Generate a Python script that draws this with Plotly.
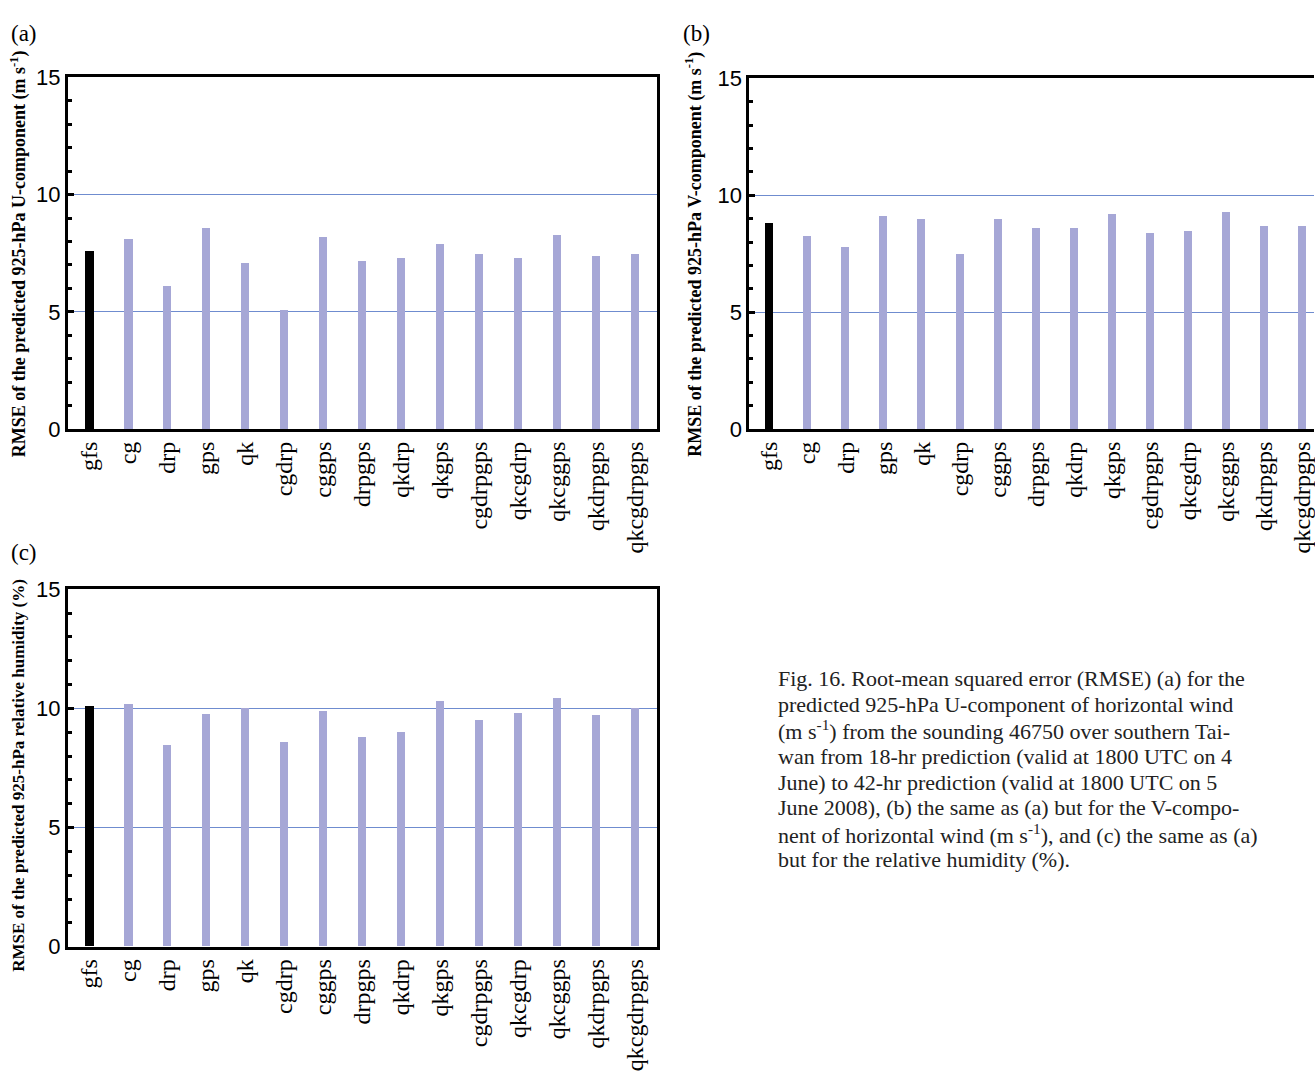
import plotly.graph_objects as go

categories = ["gfs", "cg", "drp", "gps", "qk", "cgdrp", "cggps", "drpgps", "qkdrp",
              "qkgps", "cgdrpgps", "qkcgdrp", "qkcggps", "qkdrpgps", "qkcgdrpgps"]
rmse_u = [7.56, 8.07, 6.07, 8.57, 7.07, 5.07, 8.18, 7.17, 7.28, 7.88, 7.47, 7.28, 8.28, 7.36, 7.46]
rmse_v = [8.78, 8.25, 7.77, 9.08, 8.98, 7.49, 8.98, 8.58, 8.58, 9.18, 8.37, 8.46, 9.27, 8.67, 8.67]
rmse_rh = [10.07, 10.16, 8.47, 9.77, 10.0, 8.58, 9.89, 8.78, 8.99, 10.3, 9.51, 9.79, 10.41, 9.7, 10.0]
y_ticks = [0, 5, 10, 15]

W, H = 1315, 1072
BLACK = "#000000"
LAV = "#a6a7d6"
GRID = "#6f8ccf"
SERIF = "Liberation Serif, Times New Roman, serif"
SANS = "Liberation Sans, Arial, sans-serif"

colors = [BLACK] + [LAV] * (len(categories) - 1)


def px(x):
    return x / W


def py(y):
    return 1 - y / H


fig = go.Figure()
panels = [
    ("x", "y", rmse_u),
    ("x2", "y2", rmse_v),
    ("x3", "y3", rmse_rh),
]
for xa, ya, vals in panels:
    fig.add_trace(go.Bar(x=categories, y=vals, xaxis=xa, yaxis=ya,
                         marker=dict(color=colors, line=dict(width=0)),
                         width=0.21, showlegend=False))

common_x = dict(type="category", showline=True, linewidth=3, linecolor=BLACK,
                mirror=True, ticks="", tickangle=-90, showgrid=False,
                tickfont=dict(family=SERIF, size=24, color=BLACK), zeroline=False)
common_y = dict(range=[0, 15], tickvals=y_ticks, showline=True, linewidth=3,
                linecolor=BLACK, ticks="inside", ticklen=6, tickwidth=3,
                tickcolor=BLACK, showgrid=True, gridcolor=GRID, gridwidth=1,
                zeroline=False, tickfont=dict(family=SANS, size=22, color=BLACK),
                minor=dict(dtick=1, ticks="inside", ticklen=4, tickwidth=3,
                           tickcolor=BLACK, showgrid=False))

fig.update_layout(
    width=W, height=H,
    margin=dict(l=0, r=0, t=0, b=0),
    paper_bgcolor="white", plot_bgcolor="white",
    bargap=0,
    xaxis=dict(common_x, domain=[px(68), px(657)], range=[-0.55, 14.55], anchor="y"),
    yaxis=dict(common_y, domain=[py(427), py(67)], anchor="x", mirror=True),
    xaxis2=dict(common_x, domain=[px(750), 1.0], range=[-0.53, 14.3], anchor="y2"),
    yaxis2=dict(common_y, domain=[py(427), py(68)], anchor="x2", mirror=False),
    xaxis3=dict(common_x, domain=[px(68), px(657)], range=[-0.55, 14.55], anchor="y3"),
    yaxis3=dict(common_y, domain=[py(957), py(591)], anchor="x3", mirror=True),
)

annotations = []
# panel labels
for label, x, y in [("(a)", 9, 22), ("(b)", 682, 22), ("(c)", 9, 553)]:
    annotations.append(dict(text=label, x=px(x), y=py(y), xref="paper", yref="paper",
                            xanchor="left", yanchor="middle", showarrow=False,
                            font=dict(family=SERIF, size=23, color=BLACK)))

# y-axis titles
titles = [
    ("<b>RMSE of the predicted 925-hPa U-component (m s<sup>-1</sup>)</b>", 19, 247, 18),
    ("<b>RMSE of the predicted 925-hPa V-component (m s<sup>-1</sup>)</b>", 695, 248, 18),
    ("<b>RMSE of the predicted 925-hPa relative humidity (%)</b>", 19, 781, 17),
]
for text, x, y, s in titles:
    annotations.append(dict(text=text, x=px(x), y=py(y), xref="paper", yref="paper",
                            xanchor="center", yanchor="middle", showarrow=False,
                            textangle=-90,
                            font=dict(family=SERIF, size=s, color=BLACK)))

caption = [
    "Fig. 16. Root-mean squared error (RMSE) (a) for the",
    "predicted 925-hPa U-component of horizontal wind",
    "(m s<sup>-1</sup>) from the sounding 46750 over southern Tai-",
    "wan from 18-hr prediction (valid at 1800 UTC on 4",
    "June) to 42-hr prediction (valid at 1800 UTC on 5",
    "June 2008), (b) the same as (a) but for the V-compo-",
    "nent of horizontal wind (m s<sup>-1</sup>), and (c) the same as (a)",
    "but for the relative humidity (%).",
]
for i, line in enumerate(caption):
    annotations.append(dict(text=line, x=px(777), y=py(682 + i * 26.6),
                            xref="paper", yref="paper", xanchor="left",
                            yanchor="middle", showarrow=False,
                            font=dict(family=SERIF, size=22, color="#222222")))

fig.update_layout(annotations=annotations)
fig.write_html("out.html")
